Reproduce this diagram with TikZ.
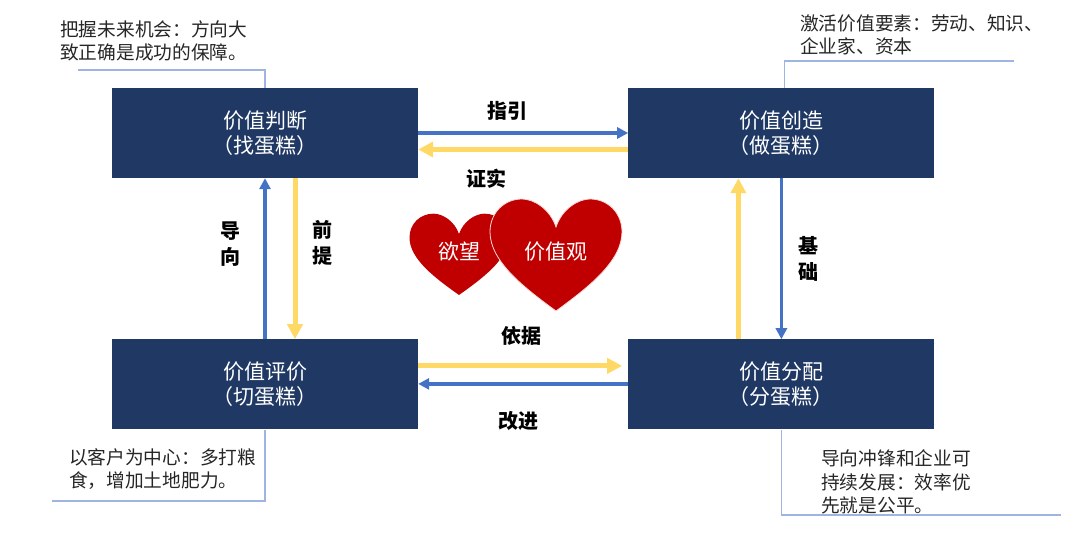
\documentclass[tikz,border=0pt]{standalone}
\usepackage{fontspec}
\setmainfont{Noto Sans CJK SC}
\usetikzlibrary{arrows.meta, positioning}
\definecolor{boxnavy}{HTML}{1F3864}
\definecolor{flowblue}{HTML}{4472C4}
\definecolor{flowyellow}{HTML}{FFD966}
\definecolor{noteblue}{HTML}{9DB5E0}
\definecolor{heartred}{HTML}{C00000}
\tikzset{
    box/.style={rectangle, fill=boxnavy, text=white, minimum width=306pt, minimum height=90pt, inner sep=0pt, align=center, font=\fontsize{21}{25}\selectfont},
    note/.style={anchor=west, inner sep=0pt, align=left, text=black!85, font=\fontsize{18.7}{23.5}\selectfont},
    tag/.style={inner sep=0pt, align=center, font=\fontsize{20}{25.5}\selectfont\bfseries},
    hearttext/.style={inner sep=0pt, text=white, font=\fontsize{21}{25}\selectfont},
    bluearrow/.style={-{Triangle[length=11pt,width=11pt]}, line width=3.5pt, draw=flowblue},
    yellowarrow/.style={-{Triangle[length=15pt,width=15pt]}, line width=5pt, draw=flowyellow},
    noteline/.style={draw=noteblue, line width=1.2pt},
    heart/.pic={
        \path[pic actions] (0,0) .. controls (-6,-18) and (-22,-28) .. (-34,-28)
            .. controls (-52,-28) and (-66,-14) .. (-66,5)
            .. controls (-66,35) and (-30,62) .. (0,84)
            .. controls (30,62) and (66,35) .. (66,5)
            .. controls (66,-14) and (52,-28) .. (34,-28)
            .. controls (22,-28) and (6,-18) .. (0,0) -- cycle;
    }
}
\begin{document}
\begin{tikzpicture}[x=1pt, y=-1pt, node distance=161pt and 210pt]
    \useasboundingbox (0,0) rectangle (1080,540);
    \node[box] (judge) at (265,133) {价值判断\\（找蛋糕）};
    \node[box, right=of judge] (create) {价值创造\\（做蛋糕）};
    \node[box, below=of judge] (assess) {价值评价\\（切蛋糕）};
    \node[box, below=of create] (assign) {价值分配\\（分蛋糕）};

    \draw[bluearrow] (judge.east) -- (create.west);
    \draw[yellowarrow] ([yshift=-16.5pt]create.west) -- ([yshift=-16.5pt]judge.east);
    \draw[bluearrow] (assess.north) -- (judge.south);
    \draw[yellowarrow] ([xshift=30pt]judge.south) -- ([xshift=30pt]assess.north);
    \draw[yellowarrow] ([xshift=-43pt]assign.north) -- ([xshift=-43pt]create.south);
    \draw[bluearrow] (create.south) -- (assign.north);
    \draw[yellowarrow] ([yshift=18.5pt]assess.east) -- ([xshift=-6pt,yshift=18.5pt]assign.west);
    \draw[bluearrow] ([yshift=0.5pt]assign.west) -- ([yshift=0.5pt]assess.east);

    \node[tag] (guide) at (507,111) {指引};
    \node[tag] (prove) at (486,179) {证实};
    \node[tag] (lead) at (230,244) {导\\向};
    \node[tag] (premise) at (322,243) {前\\提};
    \node[tag] (base) at (808,259) {基\\础};
    \node[tag] (ground) at (521,336) {依据};
    \node[tag] (improve) at (518,421) {改进};

    \pic[fill=heartred, xscale=0.75, yscale=0.726] at (459,234) {heart};
    \pic[fill=heartred, draw=white!85!heartred, line width=0.8pt] at (556,227) {heart};
    \node[hearttext] (wish) at (459,252) {欲望};
    \node[hearttext] (values) at (556,252) {价值观};

    \node[note] (noteA) at (60,41) {把握未来机会：方向大\\致正确是成功的保障。};
    \node[note] (noteB) at (800,35) {激活价值要素：劳动、知识、\\企业家、资本};
    \node[note] (noteC) at (69,469) {以客户为中心：多打粮\\食，增加土地肥力。};
    \node[note] (noteD) at (821,482) {导向冲锋和企业可\\持续发展：效率优\\先就是公平。};

    \coordinate (endA) at (78,70);
    \coordinate (endB) at (1014,61);
    \coordinate (endC) at (52,501);
    \coordinate (endD) at (1061,515);
    \draw[noteline] (judge.north) |- (endA);
    \draw[noteline] ([xshift=3pt]create.north) |- (endB);
    \draw[noteline] (assess.south) |- (endC);
    \draw[noteline] (assign.south) |- (endD);
\end{tikzpicture}
\end{document}
